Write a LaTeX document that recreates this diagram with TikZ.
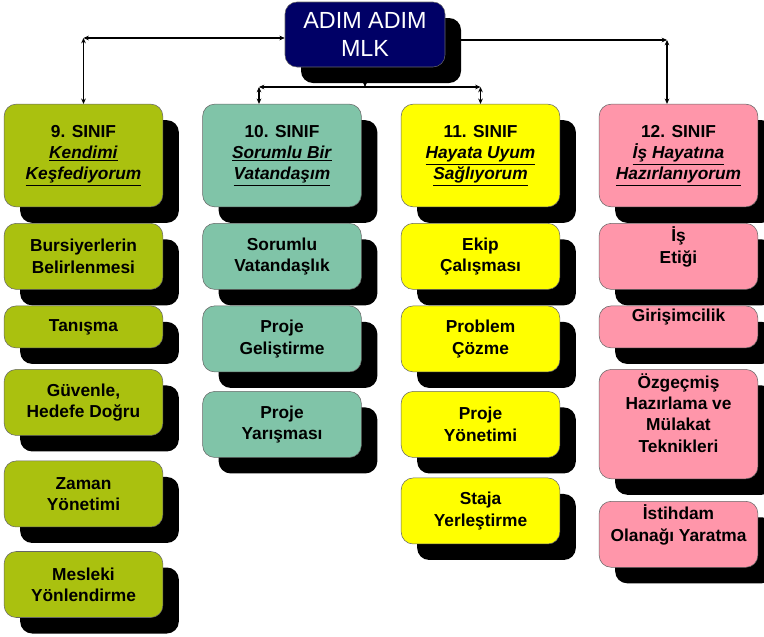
\documentclass[tikz,border=0pt]{standalone}
\usepackage{fontspec}
\setmainfont{Liberation Sans}
\usepackage{tikz}
\usetikzlibrary{positioning,shadows,arrows.meta,backgrounds,calc}

\definecolor{adimblue}{RGB}{0,0,102}
\definecolor{grade9col}{RGB}{170,193,15}
\definecolor{grade10col}{RGB}{128,196,168}
\definecolor{grade11col}{RGB}{255,255,0}
\definecolor{grade12col}{RGB}{255,150,170}

\begin{document}
\begin{tikzpicture}[
    x=0.75pt, y=-0.75pt,
    node distance=12pt,
    boxshadow/.style={drop shadow={shadow xshift=12pt, shadow yshift=-12pt, fill=black, opacity=1}},
    mainbox/.style={rectangle, draw=black!60, fill=adimblue, text=white, rounded corners=9pt, minimum width=120pt, minimum height=48.75pt, align=center, font=\fontsize{17.5}{21}\selectfont, boxshadow},
    card/.style={rectangle, draw=black!60, rounded corners=9pt, minimum width=119pt, inner sep=2pt, align=center, font=\bfseries\fontsize{13}{16}\selectfont, boxshadow},
    header/.style={card, minimum height=77pt},
    topic/.style={card, minimum height=49.5pt},
    shorttopic/.style={card, minimum height=31.5pt},
    uptext/.style={text depth=17pt},
    link/.style={{Stealth[length=4pt,width=3.5pt]}-{Stealth[length=4pt,width=3.5pt]}, line width=1.2pt},
    linkend/.style={-{Stealth[length=4pt,width=3.5pt]}, line width=1.2pt}
]
    \useasboundingbox (0,0) rectangle (764,636);

    \node[mainbox] (adim) at (365,34.5) {ADIM ADIM\\MLK};

    % 9. sinif
    \node[header, fill=grade9col] (grade9) at (83.5,155.5) {9. SINIF\\\underline{\textit{Kendimi}}\\\underline{\textit{Keşfediyorum}}};
    \node[topic, fill=grade9col, below=of grade9] (item9a) {Bursiyerlerin\\Belirlenmesi};
    \node[shorttopic, fill=grade9col, below=of item9a] (item9b) {Tanışma};
    \node[topic, fill=grade9col, below=15.75pt of item9b] (item9c) {Güvenle,\\Hedefe Doğru};
    \node[topic, fill=grade9col, below=18.75pt of item9c] (item9d) {Zaman\\Yönetimi};
    \node[topic, fill=grade9col, below=18pt of item9d] (item9e) {Mesleki\\Yönlendirme};

    % 10. sinif
    \node[header, fill=grade10col] (grade10) at (282,155.5) {10. SINIF\\\underline{\textit{Sorumlu Bir}}\\\underline{\textit{Vatandaşım}}};
    \node[topic, fill=grade10col, below=of grade10] (item10a) {Sorumlu\\Vatandaşlık};
    \node[topic, fill=grade10col, below=of item10a] (item10b) {Proje\\Geliştirme};
    \node[topic, fill=grade10col, below=14.25pt of item10b] (item10c) {Proje\\Yarışması};

    % 11. sinif
    \node[header, fill=grade11col] (grade11) at (480.5,155.5) {11. SINIF\\\underline{\textit{Hayata Uyum}}\\\underline{\textit{Sağlıyorum}}};
    \node[topic, fill=grade11col, below=of grade11] (item11a) {Ekip\\Çalışması};
    \node[topic, fill=grade11col, below=of item11a] (item11b) {Problem\\Çözme};
    \node[topic, fill=grade11col, below=14.25pt of item11b] (item11c) {Proje\\Yönetimi};
    \node[topic, fill=grade11col, below=15pt of item11c] (item11d) {Staja\\Yerleştirme};

    % 12. sinif
    \node[header, fill=grade12col] (grade12) at (678.5,155.5) {12. SINIF\\\underline{\textit{İş Hayatına}}\\\underline{\textit{Hazırlanıyorum}}};
    \node[topic, uptext, fill=grade12col, below=of grade12] (item12a) {İş\\Etiği};
    \node[shorttopic, uptext, fill=grade12col, below=of item12a] (item12b) {Girişimcilik};
    \node[card, uptext, minimum height=82pt, fill=grade12col, below=15.75pt of item12b] (item12c) {Özgeçmiş\\Hazırlama ve\\Mülakat\\Teknikleri};
    \node[topic, uptext, fill=grade12col, below=16.5pt of item12c] (item12d) {İstihdam\\Olanağı Yaratma};

    % connectors
    \coordinate (turn9) at (grade9.north |- 0,38);
    \coordinate (turn12) at (667,40);
    \coordinate (split) at (adim.south |- 0,87);
    \coordinate (turn10) at (259,87);
    \coordinate (turn11) at (grade11.north |- 0,87);

    \begin{scope}[on background layer]
        \draw[link] (adim.west |- turn9) -- (turn9);
        \draw[link] (turn9) -- (grade9.north);
        \draw[link] (adim.east |- turn12) -- (turn12);
        \draw[link] (turn12) -- (turn12 |- grade12.north);
        \draw[linkend] (adim.south) -- (split);
        \draw[link] (turn10) -- (turn11);
        \draw[link] (turn10) -- (turn10 |- grade10.north);
        \draw[link] (turn11) -- (grade11.north);
    \end{scope}
\end{tikzpicture}
\end{document}
